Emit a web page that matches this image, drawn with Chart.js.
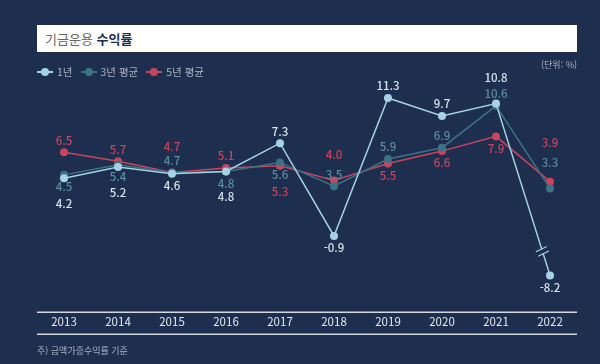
<!DOCTYPE html>
<html lang="ko">
<head>
<meta charset="utf-8">
<script src="https://cdn.jsdelivr.net/npm/chart.js@4/dist/chart.umd.min.js"></script>
<style>
  html, body { margin: 0; padding: 0; background: #1d2e4f; }
  body { width: 600px; height: 364px; position: relative; overflow: hidden;
         font-family: "Noto Sans CJK KR", "Noto Sans", sans-serif; }
  #wrap { position: absolute; left: 0; top: 0; width: 600px; height: 364px; }
  .title { position: absolute; left: 37px; top: 25px; width: 540px; height: 27px;
           background: #fff; box-sizing: border-box; padding-left: 8px;
           font-size: 13px; line-height: 27px; color: #666; }
  .title b { color: #1d2e4f; font-weight: 700; }
  .legend { position: absolute; left: 37px; top: 64px; font-size: 10.5px; color: #a9b3c3;
            display: flex; gap: 8px; }
  .legend span { display: inline-flex; align-items: center; }
  .legend i { position: relative; display: inline-block; width: 16px; height: 2px; margin-right: 4px; }
  .legend i::after { content: ""; position: absolute; left: 4px; top: -3px; width: 8px; height: 8px; border-radius: 50%; background: inherit; }
  .unit { position: absolute; right: 23px; top: 58px; font-size: 9px; color: #a9b3c3; }
  .note { position: absolute; left: 37px; top: 344px; font-size: 9px; color: #a9b3c3; }
</style>
</head>
<body>
<div id="wrap"><canvas id="chart" width="600" height="364"></canvas></div>
<div class="title">기금운용 <b>수익률</b></div>
<div class="legend">
  <span><i style="background:#a6d3e3"></i>1년</span>
  <span><i style="background:#3c7384"></i>3년 평균</span>
  <span><i style="background:#c8455e"></i>5년 평균</span>
</div>
<div class="unit">(단위: %)</div>
<div class="note">주) 금액가중수익률 기준</div>
<script>
// ===== Data =====
const years = ["2013", "2014", "2015", "2016", "2017", "2018", "2019", "2020", "2021", "2022"];
const oneYear = [4.2, 5.2, 4.6, 4.8, 7.3, -0.9, 11.3, 9.7, 10.8, -8.2];
const threeYear = [4.5, 5.4, 4.7, 4.8, 5.6, 3.5, 5.9, 6.9, 10.6, 3.3];
const fiveYear = [6.5, 5.7, 4.7, 5.1, 5.3, 4.0, 5.5, 6.6, 7.9, 3.9];

// label rows: negative = above the point, positive = below
const oneYearRows = [2, 2, 1, 2, -1, 1, -1, -1, -2, 1];
const threeYearRows = [1, 1, -1, 1, 1, -1, -1, -1, -1, -2];
const fiveYearRows = [-1, -1, -2, -1, 2, -2, 1, 1, 1, -3];

// ===== Broken y scale (values below -1 are squeezed) =====
const BRK = -1, SQUEEZE = 0.47;
const squeeze = v => (v >= BRK ? v : BRK + (v - BRK) * SQUEEZE);
const unsqueeze = v => (v >= BRK ? v : BRK + (v - BRK) / SQUEEZE);

class BrokenScale extends Chart.LinearScale {
  getPixelForValue(value) {
    return super.getPixelForValue(squeeze(value));
  }
  getValueForPixel(pixel) {
    return unsqueeze(super.getValueForPixel(pixel));
  }
}
BrokenScale.id = "broken";
BrokenScale.defaults = Chart.LinearScale.defaults;
Chart.register(BrokenScale);

const FONT = '"Noto Sans CJK KR", "Noto Sans", sans-serif';

// value labels + break mark + x axis rules
const decor = {
  id: "decor",
  afterDatasetsDraw(chart) {
    const ctx = chart.ctx;
    ctx.save();
    // break mark on the 2021 -> 2022 one-year segment
    const pts = chart.getDatasetMeta(0).data;
    const a = pts[8], b = pts[9];
    const t = 0.86;
    const mx = a.x + (b.x - a.x) * t, my = a.y + (b.y - a.y) * t;
    ctx.translate(mx, my);
    ctx.rotate(-0.45);
    ctx.fillStyle = "#1d2e4f";
    ctx.fillRect(-6, -2, 12, 4);
    ctx.strokeStyle = "#a6d3e3";
    ctx.lineWidth = 1.2;
    ctx.beginPath();
    ctx.moveTo(-6, -2.5); ctx.lineTo(6, -2.5);
    ctx.moveTo(-6, 2.5); ctx.lineTo(6, 2.5);
    ctx.stroke();
    ctx.setTransform(1, 0, 0, 1, 0, 0);

    // value labels
    ctx.font = "500 11.5px " + FONT;
    ctx.textAlign = "center";
    ctx.textBaseline = "middle";
    chart.data.datasets.forEach((ds, i) => {
      const meta = chart.getDatasetMeta(i);
      meta.data.forEach((p, j) => {
        const row = ds.labelRows[j];
        const off = Math.sign(row) * (12 + (Math.abs(row) - 1) * 13.5);
        ctx.fillStyle = ds.labelColor;
        ctx.fillText(ds.data[j].toFixed(1), p.x, p.y + off);
      });
    });

    // x axis rules
    const xs = chart.scales.x;
    ctx.strokeStyle = "#d3d8df";
    ctx.lineWidth = 1.5;
    ctx.beginPath();
    ctx.moveTo(chart.chartArea.left, xs.top + 14);
    ctx.lineTo(chart.chartArea.right, xs.top + 14);
    ctx.moveTo(chart.chartArea.left, xs.top + 36);
    ctx.lineTo(chart.chartArea.right, xs.top + 36);
    ctx.stroke();
    ctx.restore();
  }
};

function series(label, data, color, labelColor, rows, order) {
  return {
    label, data,
    borderColor: color,
    backgroundColor: color,
    pointBackgroundColor: color,
    pointBorderWidth: 0,
    pointRadius: 4,
    borderWidth: 1.5,
    tension: 0,
    labelColor,
    labelRows: rows,
    order
  };
}

new Chart(document.getElementById("chart"), {
  type: "line",
  data: {
    labels: years,
    datasets: [
      series("1년", oneYear, "#a6d3e3", "#d5e4ec", oneYearRows, 1),
      series("3년 평균", threeYear, "#3c7384", "#5a8ea0", threeYearRows, 2),
      series("5년 평균", fiveYear, "#c8455e", "#c8455e", fiveYearRows, 3)
    ]
  },
  options: {
    responsive: false,
    animation: false,
    layout: { padding: { left: 37, right: 23, top: 90, bottom: 18 } },
    plugins: { legend: { display: false }, tooltip: { enabled: false } },
    scales: {
      x: {
        offset: true,
        grid: { display: false, drawTicks: false },
        border: { display: false },
        ticks: { color: "#e6eaef", padding: 17, font: { family: FONT, size: 11.5 } }
      },
      y: {
        type: "broken",
        display: false,
        min: -6.4,
        max: 12
      }
    }
  },
  plugins: [decor]
});
</script>
</body>
</html>
